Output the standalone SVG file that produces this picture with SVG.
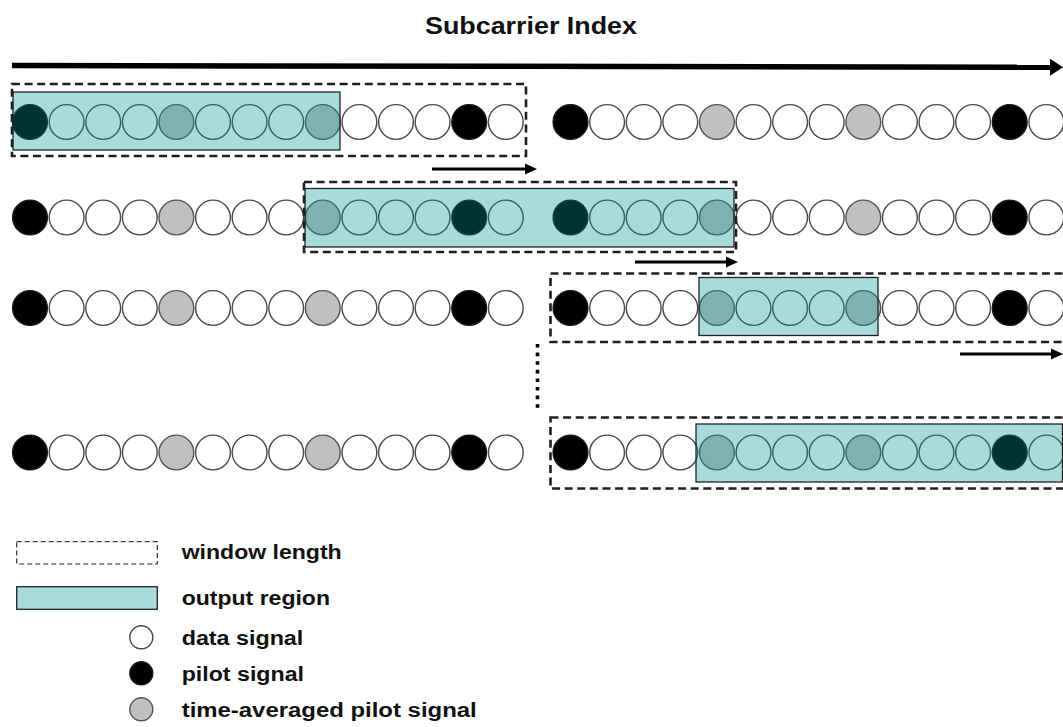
<svg xmlns="http://www.w3.org/2000/svg" xmlns:xlink="http://www.w3.org/1999/xlink" width="1063" height="727" viewBox="0 0 1063 727">
  <style>
    .bg { fill: #ffffff; }
    .d { fill: #ffffff; stroke: #4a4a4a; stroke-width: 1.4; }
    .p { fill: #000000; stroke: #1a1a1a; stroke-width: 1.4; }
    .t { fill: #c0c0c0; stroke: #555555; stroke-width: 1.4; }
    .out { fill: rgb(0,152,148); fill-opacity: 0.34; stroke: #222222; stroke-width: 1.3; }
    .win { fill: none; stroke: #1e1e1e; stroke-width: 2.6; stroke-dasharray: 8 4.6; }
    .win-key { fill: none; stroke: #333333; stroke-width: 1.2; stroke-dasharray: 5 3; }
    .dots { fill: none; stroke: #000000; stroke-width: 3.6; stroke-dasharray: 3.6 5; }
    .shift { fill: none; stroke: #000000; stroke-width: 2.8; }
    .axis { fill: none; stroke: #000000; stroke-width: 5.5; }
    .lbl { font-family: "Liberation Sans", Arial, sans-serif; font-weight: bold; fill: #111111; }
  </style>
  <defs>
    <!-- one OFDM symbol block of 14 subcarriers: pilot, 3 data, averaged pilot, 3 data, averaged pilot, 3 data, pilot, data -->
    <g id="block">
      <circle class="p" cx="0" cy="0" r="17.4"/>
      <circle class="d" cx="36.6" cy="0" r="17.4"/>
      <circle class="d" cx="73.2" cy="0" r="17.4"/>
      <circle class="d" cx="109.8" cy="0" r="17.4"/>
      <circle class="t" cx="146.4" cy="0" r="17.4"/>
      <circle class="d" cx="183" cy="0" r="17.4"/>
      <circle class="d" cx="219.6" cy="0" r="17.4"/>
      <circle class="d" cx="256.2" cy="0" r="17.4"/>
      <circle class="t" cx="292.8" cy="0" r="17.4"/>
      <circle class="d" cx="329.4" cy="0" r="17.4"/>
      <circle class="d" cx="366" cy="0" r="17.4"/>
      <circle class="d" cx="402.6" cy="0" r="17.4"/>
      <circle class="p" cx="439.2" cy="0" r="17.4"/>
      <circle class="d" cx="475.8" cy="0" r="17.4"/>
    </g>
    <marker id="head-s" viewBox="0 -6 12 12" refX="0" refY="0" markerWidth="12" markerHeight="12" markerUnits="userSpaceOnUse" orient="auto">
      <path d="M0,-5.5 L12,0 L0,5.5 Z" fill="#000000"/>
    </marker>
    <marker id="head-l" viewBox="0 -9 13 18" refX="0" refY="0" markerWidth="13" markerHeight="18" markerUnits="userSpaceOnUse" orient="auto">
      <path d="M0,-8.5 L13,0 L0,8.5 Z" fill="#000000"/>
    </marker>
  </defs>

  <rect class="bg" x="0" y="0" width="1063" height="727"/>

  <!-- frequency axis -->
  <g id="axis">
    <text class="lbl" x="425" y="33.5" font-size="23.5" textLength="212" lengthAdjust="spacingAndGlyphs">Subcarrier Index</text>
    <line class="axis" x1="12" y1="65.5" x2="1050" y2="67.3" marker-end="url(#head-l)"/>
  </g>

  <!-- symbol rows -->
  <g id="row1">
    <use xlink:href="#block" href="#block" transform="translate(30,122)"/>
    <use xlink:href="#block" href="#block" transform="translate(570.5,122)"/>
  </g>
  <g id="row2">
    <use xlink:href="#block" href="#block" transform="translate(30,217.5)"/>
    <use xlink:href="#block" href="#block" transform="translate(570.5,217.5)"/>
  </g>
  <g id="row3">
    <use xlink:href="#block" href="#block" transform="translate(30,308)"/>
    <use xlink:href="#block" href="#block" transform="translate(570.5,308)"/>
  </g>
  <g id="row4">
    <use xlink:href="#block" href="#block" transform="translate(30,452.5)"/>
    <use xlink:href="#block" href="#block" transform="translate(570.5,452.5)"/>
  </g>

  <!-- output regions -->
  <g id="output1"><rect class="out" x="13" y="92" width="327" height="58"/></g>
  <g id="output2"><rect class="out" x="305" y="188.5" width="429" height="58.5"/></g>
  <g id="output3"><rect class="out" x="699" y="277.5" width="179" height="58"/></g>
  <g id="output4"><rect class="out" x="696" y="424" width="366.5" height="58"/></g>

  <!-- sliding windows -->
  <g id="window1"><rect class="win" x="12" y="84" width="514" height="72"/></g>
  <g id="window2"><rect class="win" x="304" y="182" width="432" height="70"/></g>
  <g id="window3"><rect class="win" x="550.5" y="273.5" width="530" height="68.5"/></g>
  <g id="window4"><rect class="win" x="550.5" y="417.5" width="530" height="71"/></g>

  <!-- window shifts and continuation mark -->
  <g id="connectors">
    <line class="shift" x1="432" y1="169" x2="525" y2="169" marker-end="url(#head-s)"/>
    <line class="shift" x1="635" y1="262" x2="726" y2="262" marker-end="url(#head-s)"/>
    <line class="shift" x1="960" y1="354" x2="1051" y2="354" marker-end="url(#head-s)"/>
    <line class="dots" x1="537.5" y1="344" x2="537.5" y2="410"/>
  </g>

  <!-- key -->
  <g id="legend">
    <rect class="win-key" x="16.7" y="541.7" width="140.6" height="22.3"/>
    <text class="lbl" x="181.7" y="559.3" font-size="20" textLength="160" lengthAdjust="spacingAndGlyphs">window length</text>
    <rect class="out" x="16.7" y="586.7" width="140.6" height="22.6"/>
    <text class="lbl" x="181.7" y="605" font-size="20" textLength="148.3" lengthAdjust="spacingAndGlyphs">output region</text>
    <circle class="d" cx="141.3" cy="637.3" r="11.5"/>
    <text class="lbl" x="181.7" y="645" font-size="20" textLength="121.6" lengthAdjust="spacingAndGlyphs">data signal</text>
    <circle class="p" cx="141.3" cy="673.3" r="11.5"/>
    <text class="lbl" x="181.7" y="681" font-size="20" textLength="122.3" lengthAdjust="spacingAndGlyphs">pilot signal</text>
    <circle class="t" cx="141.3" cy="709.3" r="11.5"/>
    <text class="lbl" x="181.7" y="717" font-size="20" textLength="295" lengthAdjust="spacingAndGlyphs">time-averaged pilot signal</text>
  </g>
</svg>
